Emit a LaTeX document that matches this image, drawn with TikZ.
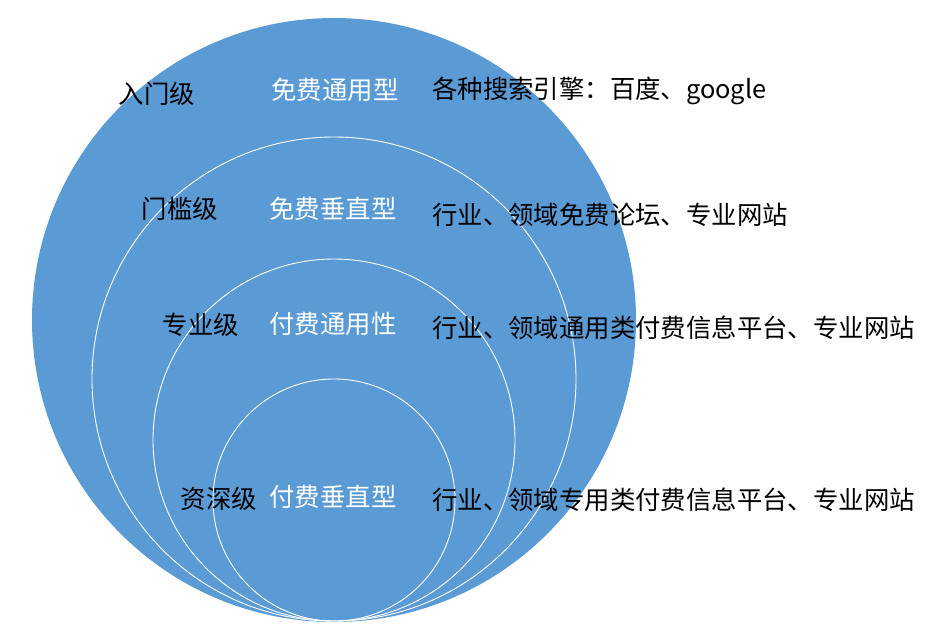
\documentclass[tikz,border=0pt]{standalone}
\usepackage{fontspec}
\setmainfont{Noto Sans CJK SC}
\usepackage{xcolor}
\definecolor{ringblue}{RGB}{91,155,213}

\begin{document}
\begin{tikzpicture}[x=1pt, y=-1pt,
  every node/.style = {inner sep=0pt, font=\fontsize{25.4}{30}\selectfont},
  level/.style = {text=black},
  kind/.style = {text=white},
  source/.style = {text=black, anchor=west},
  ring/.style = {draw=white, line width=0.9pt}
  ]
  \useasboundingbox (0,0) rectangle (952,625);
  % outer disc and the nested rings
  \fill[ringblue] (334,320) circle [radius=302pt];
  \foreach \r in {242,181,121}
    \draw[ring] (334,{621-\r}) circle [radius=\r pt];

  \node[level] (lv1) at (157,94) {入门级};
  \node[level] (lv2) at (180,209) {门槛级};
  \node[level] (lv3) at (201,325) {专业级};
  \node[level] (lv4) at (219,499) {资深级};

  \node[kind] (kd1) at (335,90) {免费通用型};
  \node[kind] (kd2) at (333,209) {免费垂直型};
  \node[kind] (kd3) at (333,324) {付费通用性};
  \node[kind] (kd4) at (333,497) {付费垂直型};

  \node[source] (src1) at (432,91) {各种搜索引擎：百度、google};
  \node[source] (src2) at (432,215) {行业、领域免费论坛、专业网站};
  \node[source] (src3) at (432,328) {行业、领域通用类付费信息平台、专业网站};
  \node[source] (src4) at (432,500) {行业、领域专用类付费信息平台、专业网站};
\end{tikzpicture}
\end{document}
